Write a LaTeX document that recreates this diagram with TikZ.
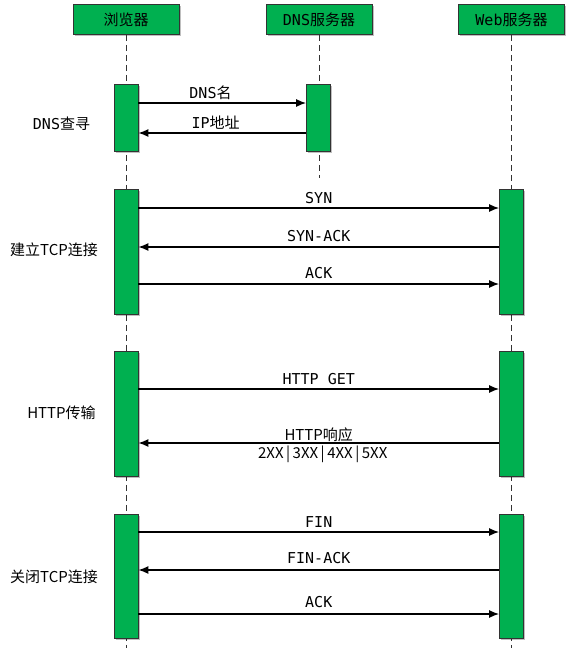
\documentclass[tikz,border=0pt]{standalone}
\usepackage{fontspec}
\setmainfont{Noto Sans CJK SC}
\newfontfamily\monofont{DejaVu Sans Mono}
\usetikzlibrary{positioning,shadows,arrows.meta}

\definecolor{boxgreen}{HTML}{00B050}
\definecolor{edgegray}{HTML}{333333}

\tikzset{
  boxshadow/.style={drop shadow={shadow xshift=1.5pt, shadow yshift=-1.5pt, opacity=0.25, fill=black}},
  head/.style={draw=edgegray, fill=boxgreen, line width=0.8pt, minimum width=106pt, minimum height=30pt, inner sep=0pt, boxshadow},
  act/.style={draw=edgegray, fill=boxgreen, line width=0.8pt, minimum width=24pt, inner sep=0pt, boxshadow},
  life/.style={draw=black!80, line width=1pt, dash pattern=on 6pt off 4pt},
  msg/.style={-{Latex[length=10pt,width=8pt]}, line width=1.3pt},
  lbl/.style={anchor=base, inner sep=0pt},
  grp/.style={inner sep=0pt},
}

\begin{document}
\begin{tikzpicture}[x=1pt, y=-1pt, font=\fontsize{15}{18}\selectfont]
	\useasboundingbox (0,0) rectangle (573,648);

	% Participants
	\node[head] (hb) at (126,19.5) {浏览器};
	\node[head] (hd) at (319,19.5) {{\monofont DNS}服务器};
	\node[head] (hw) at (511.5,19.5) {{\monofont Web}服务器};

	% Lifelines
	\coordinate (bend) at (hb |- 0,648);
	\coordinate (dend) at (hd |- 0,178);
	\coordinate (wend) at (hw |- 0,648);
	\draw[life] (hb.south) -- (bend);
	\draw[life] (hd.south) -- (dend);
	\draw[life] (hw.south) -- (wend);

	% Activation bars
	\node[act, minimum height=67pt] (b1) at (126,117.5) {};
	\node[act, minimum height=67pt] (d1) at (318.5,117.5) {};
	\node[act, minimum height=125pt] (b2) at (126,251.5) {};
	\node[act, minimum height=125pt] (w2) at (511.5,251.5) {};
	\node[act, minimum height=125pt] (b3) at (126,413.5) {};
	\node[act, minimum height=125pt] (w3) at (511.5,413.5) {};
	\node[act, minimum height=124pt] (b4) at (126,576) {};
	\node[act, minimum height=124pt] (w4) at (511.5,576) {};

	% Group labels
	\node[grp] (g1) at (61.5,123.5) {{\monofont DNS}查寻};
	\node[grp] (g2) at (54,250) {建立TCP连接};
	\node[grp] (g3) at (61.5,413) {HTTP传输};
	\node[grp] (g4) at (54,577) {关闭TCP连接};

	% DNS lookup
	\draw[msg] (b1.east |- 0,103) -- (d1.west |- 0,103)
		node[lbl, pos=0.43, yshift=5pt] {{\monofont DNS}名};
	\draw[msg] (d1.west |- 0,133) -- (b1.east |- 0,133)
		node[lbl, pos=0.54, yshift=5pt] {{\monofont IP}地址};

	% TCP handshake
	\draw[msg] (b2.east |- 0,208) -- (w2.west |- 0,208)
		node[lbl, midway, yshift=5pt] {\monofont SYN};
	\draw[msg] (w2.west |- 0,247) -- (b2.east |- 0,247)
		node[lbl, midway, yshift=6pt] {\monofont SYN-ACK};
	\draw[msg] (b2.east |- 0,284) -- (w2.west |- 0,284)
		node[lbl, midway, yshift=6pt] {\monofont ACK};

	% HTTP
	\draw[msg] (b3.east |- 0,389) -- (w3.west |- 0,389)
		node[lbl, midway, yshift=5pt] {\monofont HTTP GET};
	\draw[msg] (w3.west |- 0,443) -- (b3.east |- 0,443)
		node[lbl, midway, yshift=3pt] {HTTP响应}
		node[lbl, midway, xshift=4pt, yshift=-15pt] {2XX\,|\,3XX\,|\,4XX\,|\,5XX};

	% TCP close
	\draw[msg] (b4.east |- 0,532) -- (w4.west |- 0,532)
		node[lbl, midway, yshift=5pt] {\monofont FIN};
	\draw[msg] (w4.west |- 0,570) -- (b4.east |- 0,570)
		node[lbl, midway, yshift=7pt] {\monofont FIN-ACK};
	\draw[msg] (b4.east |- 0,614) -- (w4.west |- 0,614)
		node[lbl, midway, yshift=7pt] {\monofont ACK};
\end{tikzpicture}
\end{document}
